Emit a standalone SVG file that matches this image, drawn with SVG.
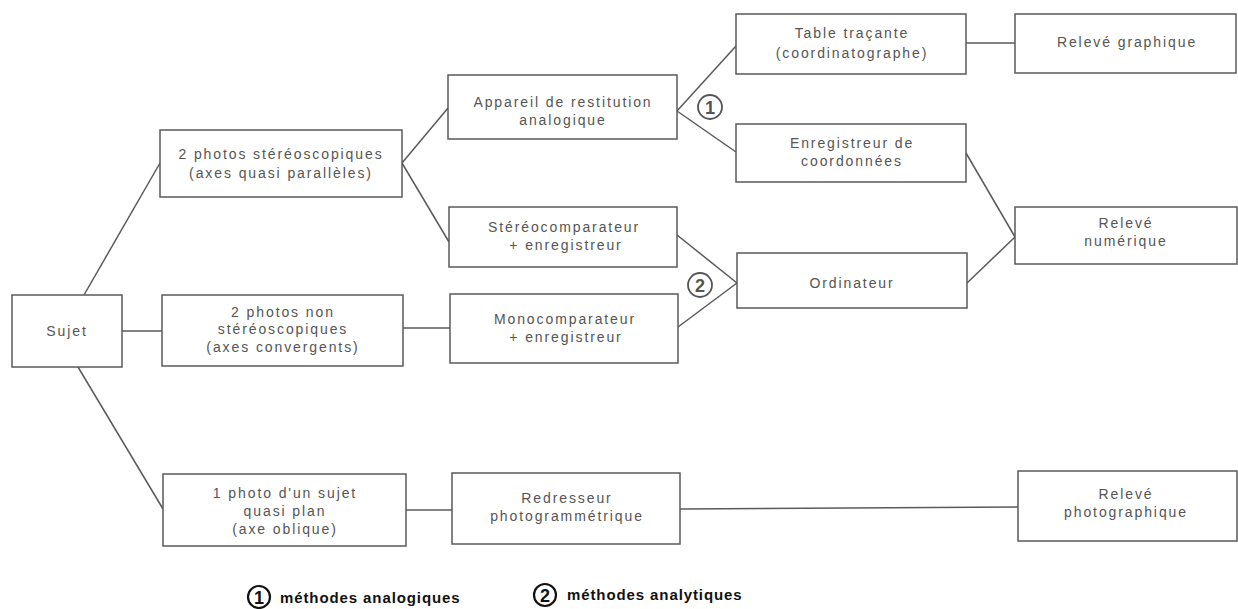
<svg xmlns="http://www.w3.org/2000/svg" width="1238" height="609" viewBox="0 0 1238 609">
<style>
.box{fill:#fff;stroke:#5a5a5a;stroke-width:1.5}
.t{font-family:"Liberation Sans",Arial,sans-serif;font-size:14px;letter-spacing:1.9px;fill:#555;text-anchor:middle}
.c line{stroke:#5a5a5a;stroke-width:1.5}
.num{fill:none;stroke:#555;stroke-width:1.8}
.nt{font-family:"Liberation Sans",Arial,sans-serif;font-size:18px;font-weight:bold;fill:#555;text-anchor:middle}
.leg{font-family:"Liberation Sans",Arial,sans-serif;font-size:15px;font-weight:bold;letter-spacing:0.9px;fill:#111}
.lc{fill:none;stroke:#111;stroke-width:2.2}
.ln{font-family:"Liberation Sans",Arial,sans-serif;font-size:18px;font-weight:bold;fill:#111;text-anchor:middle}
</style>
<rect width="1238" height="609" fill="#fff"/>
<g class="c" id="connectors">
<line x1="84" y1="295" x2="160" y2="163"/>
<line x1="122" y1="331" x2="162" y2="331"/>
<line x1="78" y1="367" x2="163" y2="509"/>
<line x1="402" y1="163" x2="448" y2="108"/>
<line x1="402" y1="163" x2="449" y2="242"/>
<line x1="403" y1="328" x2="450" y2="328"/>
<line x1="406" y1="510" x2="452" y2="510"/>
<line x1="677" y1="111" x2="736" y2="46"/>
<line x1="677" y1="111" x2="736" y2="152"/>
<line x1="677" y1="235" x2="737" y2="283"/>
<line x1="678" y1="327" x2="737" y2="283"/>
<line x1="680" y1="509" x2="1018" y2="507"/>
<line x1="966" y1="43" x2="1015" y2="43"/>
<line x1="966" y1="153" x2="1015" y2="237"/>
<line x1="967" y1="283" x2="1015" y2="237"/>
</g>
<g id="sujet"><rect class="box" x="12" y="295" width="110" height="72"/><text class="t" x="67" y="336">Sujet</text></g>
<g id="stereo"><rect class="box" x="160" y="130" width="242" height="67"/><text class="t" x="281" y="159">2 photos stéréoscopiques</text><text class="t" x="281" y="178">(axes quasi parallèles)</text></g>
<g id="nonstereo"><rect class="box" x="162" y="295" width="241" height="71"/><text class="t" x="283" y="317">2 photos non</text><text class="t" x="283" y="334">stéréoscopiques</text><text class="t" x="283" y="352">(axes convergents)</text></g>
<g id="unephoto"><rect class="box" x="163" y="474" width="243" height="72"/><text class="t" x="285" y="498">1 photo d'un sujet</text><text class="t" x="285" y="516">quasi plan</text><text class="t" x="285" y="534">(axe oblique)</text></g>
<g id="appareil"><rect class="box" x="448" y="75" width="229" height="64"/><text class="t" x="563" y="107">Appareil de restitution</text><text class="t" x="563" y="125">analogique</text></g>
<g id="stereocomp"><rect class="box" x="449" y="207" width="228" height="60"/><text class="t" x="564" y="232">Stéréocomparateur</text><text class="t" x="566" y="250">+ enregistreur</text></g>
<g id="monocomp"><rect class="box" x="450" y="294" width="228" height="69"/><text class="t" x="565" y="324">Monocomparateur</text><text class="t" x="566" y="342">+ enregistreur</text></g>
<g id="redresseur"><rect class="box" x="452" y="473" width="228" height="71"/><text class="t" x="567" y="503">Redresseur</text><text class="t" x="567" y="521">photogrammétrique</text></g>
<g id="table"><rect class="box" x="736" y="14" width="230" height="60"/><text class="t" x="852" y="38">Table traçante</text><text class="t" x="852" y="58">(coordinatographe)</text></g>
<g id="enregistreur"><rect class="box" x="736" y="124" width="230" height="58"/><text class="t" x="852" y="148">Enregistreur de</text><text class="t" x="852" y="166">coordonnées</text></g>
<g id="ordinateur"><rect class="box" x="737" y="253" width="230" height="55"/><text class="t" x="852" y="288">Ordinateur</text></g>
<g id="releve-graphique"><rect class="box" x="1015" y="14" width="221" height="59"/><text class="t" x="1127" y="47">Relevé graphique</text></g>
<g id="releve-numerique"><rect class="box" x="1015" y="207" width="222" height="57"/><text class="t" x="1126" y="228">Relevé</text><text class="t" x="1126" y="246">numérique</text></g>
<g id="releve-photo"><rect class="box" x="1018" y="471" width="219" height="70"/><text class="t" x="1126" y="499">Relevé</text><text class="t" x="1126" y="517">photographique</text></g>
<g id="mark1"><circle class="num" cx="710" cy="107" r="12"/><text class="nt" x="710" y="113.5">1</text></g>
<g id="mark2"><circle class="num" cx="700" cy="285" r="12"/><text class="nt" x="700" y="291.5">2</text></g>
<g id="legend">
<circle class="lc" cx="259" cy="597" r="11"/><text class="ln" x="259" y="603.5">1</text>
<text class="leg" x="280" y="603">méthodes analogiques</text>
<circle class="lc" cx="545" cy="595" r="11"/><text class="ln" x="545" y="601.5">2</text>
<text class="leg" x="567" y="600">méthodes analytiques</text>
</g>
</svg>
